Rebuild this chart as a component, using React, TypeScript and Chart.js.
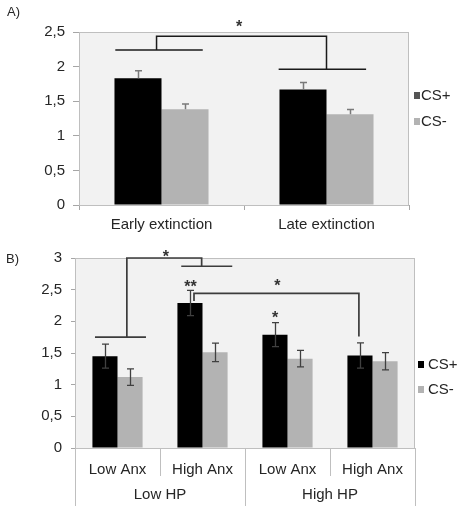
import React, { useEffect, useRef } from "react";
import { Chart, registerables } from "chart.js";
Chart.register(...registerables);

// ---------- DATA ----------
const seriesNames = ["CS+", "CS-"];

const categoriesA = ["Early extinction", "Late extinction"];
const csPlusA = [1.83, 1.67];
const csMinusA = [1.385, 1.31];
const csPlusErrA = [0.11, 0.1];
const csMinusErrA = [0.075, 0.07];
const yMaxA = 2.5;

const categoriesB = ["Low Anx", "High Anx", "Low Anx", "High Anx"];
const groupsB = ["Low HP", "High HP"];
const csPlusB = [1.45, 2.29, 1.79, 1.46];
const csMinusB = [1.12, 1.51, 1.41, 1.37];
const csPlusErrB = [0.19, 0.2, 0.19, 0.2];
const csMinusErrB = [0.13, 0.145, 0.13, 0.135];
const yMaxB = 3;

// significance annotations: [category index + offset, value]
const bracketsA: number[][][] = [
  [[-0.28, 2.24], [0.25, 2.24]],
  [[-0.03, 2.24], [-0.03, 2.44], [1.0, 2.44], [1.0, 1.96]],
  [[0.71, 1.96], [1.24, 1.96]],
];
const starsA = [{ at: 0.47, v: 2.63, text: "*" }];

const bracketsB: number[][][] = [
  [[-0.265, 1.75], [0.335, 1.75]],
  [[0.11, 1.75], [0.11, 3.0], [0.99, 3.0], [0.99, 2.87]],
  [[0.75, 2.87], [1.35, 2.87]],
  [[0.9, 2.32], [0.9, 2.44], [2.84, 2.44], [2.84, 1.76]],
];
const starsB = [
  { at: 0.57, v: 3.08, text: "*" },
  { at: 0.86, v: 2.61, text: "**" },
  { at: 1.88, v: 2.62, text: "*" },
  { at: 1.853, v: 2.11, text: "*" },
];

const FONT = "'Liberation Sans', Arial, sans-serif";
const fmt = (v: any) => String(v).replace(".", ",");

function bgPlugin(border: string) {
  return {
    id: "bg",
    beforeDatasetsDraw(chart: any) {
      const { ctx, chartArea: a } = chart;
      ctx.save();
      ctx.fillStyle = "#f2f2f2";
      ctx.fillRect(a.left, a.top, a.right - a.left, a.bottom - a.top);
      ctx.strokeStyle = border;
      ctx.lineWidth = 1;
      ctx.strokeRect(a.left + 0.5, a.top + 0.5, a.right - a.left - 1, a.bottom - a.top);
      ctx.restore();
    },
  };
}

function errorPlugin(errs: number[][], both: boolean, color: string, width: number, cap: number) {
  return {
    id: "errbars",
    afterDatasetsDraw(chart: any) {
      const { ctx } = chart;
      const ys = chart.scales.y;
      ctx.save();
      ctx.strokeStyle = color;
      ctx.lineWidth = width;
      chart.data.datasets.forEach((ds: any, i: number) => {
        const meta = chart.getDatasetMeta(i);
        meta.data.forEach((el: any, j: number) => {
          const v = ds.data[j];
          const e = errs[i][j];
          const x = Math.round(el.x) + 0.5;
          const yt = ys.getPixelForValue(v + e);
          const yb = both ? ys.getPixelForValue(v - e) : el.y;
          ctx.beginPath();
          ctx.moveTo(x, yt);
          ctx.lineTo(x, yb);
          ctx.moveTo(x - cap, yt);
          ctx.lineTo(x + cap, yt);
          if (both) {
            ctx.moveTo(x - cap, yb);
            ctx.lineTo(x + cap, yb);
          }
          ctx.stroke();
        });
      });
      ctx.restore();
    },
  };
}

function annotPlugin(brackets: number[][][], stars: any[], color: string, width: number, starColor: string) {
  return {
    id: "annot",
    afterDraw(chart: any) {
      const { ctx } = chart;
      const xs = chart.scales.x;
      const ys = chart.scales.y;
      ctx.save();
      ctx.strokeStyle = color;
      ctx.lineWidth = width;
      brackets.forEach((pl) => {
        ctx.beginPath();
        pl.forEach(([c, v], k) => {
          const x = xs.getPixelForValue(c);
          const y = ys.getPixelForValue(v);
          if (k === 0) ctx.moveTo(x, y);
          else ctx.lineTo(x, y);
        });
        ctx.stroke();
      });
      ctx.fillStyle = starColor;
      ctx.font = `bold 16px ${FONT}`;
      ctx.textAlign = "center";
      ctx.textBaseline = "alphabetic";
      stars.forEach((s) => {
        ctx.fillText(s.text, xs.getPixelForValue(s.at), ys.getPixelForValue(s.v) + 9);
      });
      ctx.restore();
    },
  };
}

function legendPlugin(colors: string[], dx: number, ys: number[], textDx: number) {
  return {
    id: "customLegend",
    afterDraw(chart: any) {
      const { ctx, chartArea: a } = chart;
      ctx.save();
      ctx.font = `15px ${FONT}`;
      ctx.textBaseline = "middle";
      ctx.textAlign = "left";
      chart.data.datasets.forEach((ds: any, i: number) => {
        const x = a.right + dx;
        const y = a.top + ys[i];
        ctx.fillStyle = colors[i];
        ctx.fillRect(x, y - 3, 6, 7);
        ctx.fillStyle = "#262626";
        ctx.fillText(ds.label, x + textDx, y + 1);
      });
      ctx.restore();
    },
  };
}

function groupAxisPlugin(groups: string[], perGroup: number, color: string) {
  return {
    id: "groupAxis",
    afterDraw(chart: any) {
      const { ctx, chartArea: a } = chart;
      const xs = chart.scales.x;
      const n = chart.data.labels.length;
      const h = chart.height;
      ctx.save();
      ctx.strokeStyle = color;
      ctx.lineWidth = 1;
      for (let k = 0; k <= n; k++) {
        const x = Math.round(xs.getPixelForValue(k - 0.5)) + 0.5;
        const full = k % perGroup === 0;
        ctx.beginPath();
        ctx.moveTo(x, a.bottom);
        ctx.lineTo(x, full ? h : a.bottom + 28);
        ctx.stroke();
      }
      ctx.fillStyle = "#262626";
      ctx.font = `15px ${FONT}`;
      ctx.textAlign = "center";
      ctx.textBaseline = "middle";
      groups.forEach((g, gi) => {
        const x0 = xs.getPixelForValue(gi * perGroup - 0.5);
        const x1 = xs.getPixelForValue((gi + 1) * perGroup - 0.5);
        ctx.fillText(g, (x0 + x1) / 2, a.bottom + 47);
      });
      ctx.restore();
    },
  };
}

function ChartA() {
  const ref = useRef<HTMLCanvasElement>(null);
  useEffect(() => {
    const chart = new Chart(ref.current!, {
      type: "bar",
      data: {
        labels: categoriesA,
        datasets: [
          { label: seriesNames[0], data: csPlusA, backgroundColor: "#000000", categoryPercentage: 0.57, barPercentage: 1 },
          { label: seriesNames[1], data: csMinusA, backgroundColor: "#b3b3b3", categoryPercentage: 0.57, barPercentage: 1 },
        ],
      },
      options: {
        animation: false,
        responsive: false,
        layout: { padding: { left: 0, top: 32, right: 50, bottom: 0 } },
        plugins: { legend: { display: false }, tooltip: { enabled: false }, title: { display: false } },
        scales: {
          x: {
            afterFit: (s: any) => { s.height = 35; },
            grid: { display: true, drawOnChartArea: false, drawTicks: true, tickLength: 5, color: "#a6a6a6", offset: true },
            border: { display: true, color: "#a6a6a6" },
            ticks: { font: { size: 15, family: FONT }, color: "#262626", padding: 6, maxRotation: 0 },
          },
          y: {
            min: 0,
            max: yMaxA,
            afterFit: (s: any) => { s.width = 79; },
            grid: { display: true, drawOnChartArea: false, drawTicks: true, tickLength: 6, color: "#a6a6a6" },
            border: { display: false },
            ticks: { stepSize: 0.5, font: { size: 15, family: FONT }, color: "#262626", padding: 8, callback: fmt },
          },
        },
      },
      plugins: [
        bgPlugin("#bfbfbf"),
        errorPlugin([csPlusErrA, csMinusErrA], false, "#7a7a7a", 1.5, 3.5),
        annotPlugin(bracketsA, starsA, "#1a1a1a", 1.5, "#333333"),
        legendPlugin(["#555555", "#b3b3b3"], 5, [63, 89], 7),
      ],
    } as any);
    return () => chart.destroy();
  }, []);
  return <canvas ref={ref} width={459} height={240} style={{ position: "absolute", left: 0, top: 0 }} />;
}

function ChartB() {
  const ref = useRef<HTMLCanvasElement>(null);
  useEffect(() => {
    const chart = new Chart(ref.current!, {
      type: "bar",
      data: {
        labels: categoriesB,
        datasets: [
          { label: seriesNames[0], data: csPlusB, backgroundColor: "#000000", categoryPercentage: 0.59, barPercentage: 1 },
          { label: seriesNames[1], data: csMinusB, backgroundColor: "#b3b3b3", categoryPercentage: 0.59, barPercentage: 1 },
        ],
      },
      options: {
        animation: false,
        responsive: false,
        layout: { padding: { left: 0, top: 17, right: 44, bottom: 0 } },
        plugins: { legend: { display: false }, tooltip: { enabled: false }, title: { display: false } },
        scales: {
          x: {
            afterFit: (s: any) => { s.height = 58; },
            grid: { display: false },
            border: { display: true, color: "#a6a6a6" },
            ticks: { font: { size: 15, family: FONT }, color: "#262626", padding: 5, maxRotation: 0 },
          },
          y: {
            min: 0,
            max: yMaxB,
            afterFit: (s: any) => { s.width = 75; },
            grid: { display: true, drawOnChartArea: false, drawTicks: true, tickLength: 4, color: "#a6a6a6" },
            border: { display: false },
            ticks: { stepSize: 0.5, font: { size: 15, family: FONT }, color: "#262626", padding: 9, callback: fmt },
          },
        },
      },
      plugins: [
        bgPlugin("#bfbfbf"),
        errorPlugin([csPlusErrB, csMinusErrB], true, "#404040", 1.3, 3.5),
        annotPlugin(bracketsB, starsB, "#3c3c3c", 1.7, "#333333"),
        legendPlugin(["#000000", "#b3b3b3"], 3, [106, 131], 10),
        groupAxisPlugin(groupsB, 2, "#bfbfbf"),
      ],
    } as any);
    return () => chart.destroy();
  }, []);
  return <canvas ref={ref} width={459} height={266} style={{ position: "absolute", left: 0, top: 240 }} />;
}

export default function App() {
  const lbl: React.CSSProperties = { position: "absolute", font: `13px ${FONT}`, lineHeight: "15px", color: "#262626" };
  return (
    <div style={{ position: "absolute", left: 0, top: 0, width: 459, height: 506, background: "#ffffff" }}>
      <ChartA />
      <ChartB />
      <div style={{ ...lbl, left: 7, top: 4 }}>A)</div>
      <div style={{ ...lbl, left: 6, top: 251 }}>B)</div>
    </div>
  );
}
